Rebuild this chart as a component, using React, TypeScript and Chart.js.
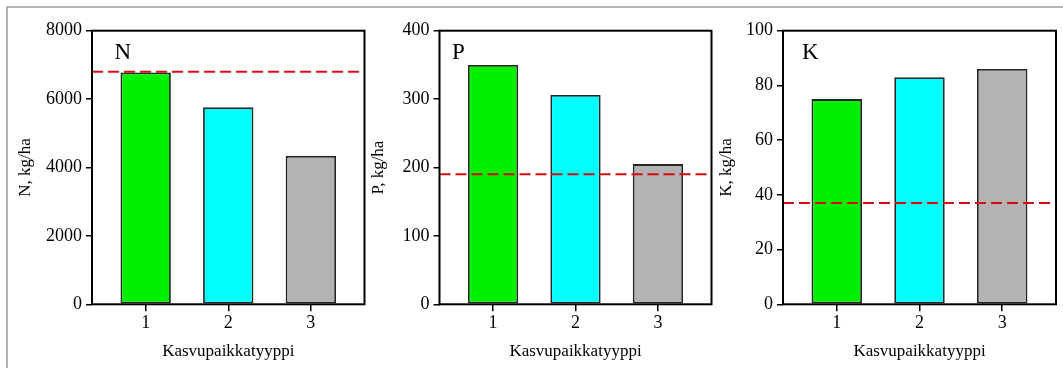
import React, { useEffect, useRef } from 'react';
import { Chart, registerables } from 'chart.js';

Chart.register(...registerables);

// ---- data ----
const CATEGORIES = [1, 2, 3];
const N_VALUES = [6780, 5760, 4340];
const P_VALUES = [350, 306, 205];
const K_VALUES = [75, 83, 86];
const REFERENCE_LEVELS = [6800, 190, 37];
const PANEL_LETTERS = ['N', 'P', 'K'];
const Y_TITLES = ['N, kg/ha', 'P, kg/ha', 'K, kg/ha'];
const Y_MAX = [8000, 400, 100];
const Y_STEP = [2000, 100, 20];
const X_TITLE = 'Kasvupaikkatyyppi';
const BAR_COLORS = ['#00f000', '#00ffff', '#b3b3b3'];

const SERIES = [N_VALUES, P_VALUES, K_VALUES];

// ---- layout (pixels) ----
const LAYOUT = [
  { canvasLeft: 15, plotLeft: 92, plotRight: 364.5, canvasRight: 369, letterDx: 22.5 },
  { canvasLeft: 368, plotLeft: 439.5, plotRight: 711.5, canvasRight: 716, letterDx: 12.5 },
  { canvasLeft: 716, plotLeft: 783, plotRight: 1056, canvasRight: 1063, letterDx: 19 },
];
const PLOT_TOP = 30.7;
const PLOT_BOTTOM = 304.3;
const HEIGHT = 368;
const X_AXIS_H = 57.1;
const FONT = 'Liberation Serif';

function Panel({ idx }: { idx: number }) {
  const ref = useRef<HTMLCanvasElement | null>(null);
  const lay = LAYOUT[idx];
  const width = lay.canvasRight - lay.canvasLeft;

  useEffect(() => {
    if (!ref.current) return;
    const values = SERIES[idx];
    const refLevel = REFERENCE_LEVELS[idx];

    const overlay = {
      id: 'overlay' + idx,
      afterDatasetsDraw(chart: any) {
        const { ctx, chartArea } = chart;
        const y = chart.scales.y.getPixelForValue(refLevel);
        ctx.save();
        ctx.strokeStyle = '#d80c0c';
        ctx.lineWidth = 2;
        ctx.setLineDash([11, 5]);
        ctx.beginPath();
        ctx.moveTo(chartArea.left, y);
        ctx.lineTo(chartArea.right, y);
        ctx.stroke();
        ctx.restore();
      },
      afterDraw(chart: any) {
        const { ctx, chartArea } = chart;
        ctx.save();
        ctx.strokeStyle = '#000';
        ctx.lineWidth = 2;
        ctx.strokeRect(chartArea.left, chartArea.top, chartArea.right - chartArea.left, chartArea.bottom - chartArea.top);
        ctx.fillStyle = '#000';
        ctx.font = `23px "${FONT}"`;
        ctx.textBaseline = 'alphabetic';
        ctx.textAlign = 'left';
        ctx.fillText(PANEL_LETTERS[idx], chartArea.left + lay.letterDx, chartArea.top + 28.6);
        ctx.restore();
      },
    };

    const chart = new Chart(ref.current, {
      type: 'bar',
      data: {
        datasets: [
          {
            data: CATEGORIES.map((c, i) => ({ x: c, y: values[i] })),
            backgroundColor: BAR_COLORS,
            borderColor: '#262626',
            borderWidth: 1.8,
            borderSkipped: false,
            barPercentage: 0.61,
            categoryPercentage: 1,
          },
        ],
      },
      options: {
        animation: false,
        responsive: false,
        devicePixelRatio: 1,
        layout: {
          padding: {
            left: 0,
            top: PLOT_TOP,
            right: lay.canvasRight - lay.plotRight,
            bottom: HEIGHT - PLOT_BOTTOM - X_AXIS_H,
          },
        },
        plugins: {
          legend: { display: false },
          tooltip: { enabled: false },
        },
        scales: {
          x: {
            type: 'linear',
            min: 0.35,
            max: 3.65,
            offset: false,
            afterBuildTicks: (scale: any) => {
              scale.ticks = CATEGORIES.map((v) => ({ value: v }));
            },
            afterFit: (scale: any) => {
              scale.height = X_AXIS_H;
            },
            ticks: {
              color: '#000',
              font: { family: FONT, size: 18 },
              padding: 1,
              callback: (v: any) => String(v),
            },
            grid: {
              display: true,
              offset: false,
              drawOnChartArea: false,
              drawTicks: true,
              tickLength: 7,
              color: '#000',
              lineWidth: 1.5,
            },
            border: { display: false },
            title: {
              display: true,
              text: X_TITLE,
              color: '#000',
              font: { family: FONT, size: 17, lineHeight: 1.2 },
              padding: 0,
            },
          },
          y: {
            min: 0,
            max: Y_MAX[idx],
            afterFit: (scale: any) => {
              scale.width = lay.plotLeft - lay.canvasLeft;
            },
            ticks: {
              stepSize: Y_STEP[idx],
              color: '#000',
              font: { family: FONT, size: 18 },
              padding: 4,
              callback: (v: any) => String(v),
            },
            grid: {
              display: true,
              drawOnChartArea: false,
              drawTicks: true,
              tickLength: 6,
              color: '#000',
              lineWidth: 1.5,
            },
            border: { display: false },
            title: {
              display: true,
              text: Y_TITLES[idx],
              color: '#000',
              font: { family: FONT, size: 17, lineHeight: 1.2 },
              padding: 0,
            },
          },
        },
      },
      plugins: [overlay],
    } as any);

    return () => chart.destroy();
  }, [idx]);

  return (
    <canvas
      ref={ref}
      width={width}
      height={HEIGHT}
      style={{ position: 'absolute', left: lay.canvasLeft, top: 0, width, height: HEIGHT }}
    />
  );
}

export default function App() {
  return (
    <div
      style={{
        position: 'fixed',
        left: 0,
        top: 0,
        width: 1063,
        height: HEIGHT,
        background: '#fff',
        overflow: 'hidden',
      }}
    >
      <div
        style={{
          position: 'absolute',
          left: 6,
          top: 6,
          width: 1100,
          height: 400,
          borderTop: '2px solid #b4b4b4',
          borderLeft: '2px solid #b4b4b4',
        }}
      />
      {[0, 1, 2].map((i) => (
        <Panel key={i} idx={i} />
      ))}
    </div>
  );
}
